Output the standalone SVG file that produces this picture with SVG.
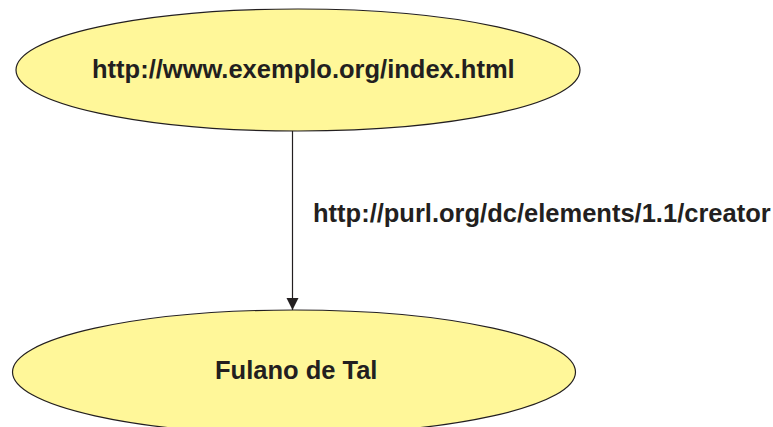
<svg xmlns="http://www.w3.org/2000/svg" width="773" height="427" viewBox="0 0 773 427">
<style>
.node{fill:#fff799;stroke:#231f20;stroke-width:1.2}
.t{font-family:"Liberation Sans",Arial,sans-serif;font-weight:bold;font-size:25.5px;fill:#231f20}
.edge{stroke:#231f20;stroke-width:1.2;fill:none}
</style>
<defs>
<marker id="arr" markerUnits="userSpaceOnUse" markerWidth="12" markerHeight="16" refX="12" refY="6" orient="auto" viewBox="0 0 12 12">
<path d="M0,0 L12,6 L0,12 Z" fill="#231f20"/>
</marker>
</defs>
<rect width="773" height="427" fill="#fff"/>
<g id="edges">
<line class="edge" x1="292.5" y1="130.5" x2="292.5" y2="310" marker-end="url(#arr)"/>
<text class="t" x="313" y="222">http://purl.org/dc/elements/1.1/creator</text>
</g>
<g id="node-index">
<ellipse class="node" cx="298" cy="70" rx="282" ry="61"/>
<text class="t" x="92" y="78">http://www.exemplo.org/index.html</text>
</g>
<g id="node-fulano">
<ellipse class="node" cx="294" cy="372" rx="281.5" ry="62"/>
<text class="t" x="215" y="379">Fulano de Tal</text>
</g>
</svg>
